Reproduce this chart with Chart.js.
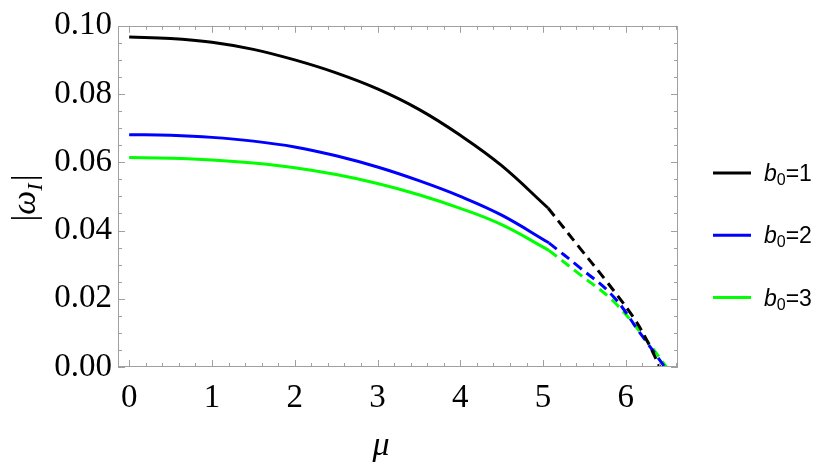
<!DOCTYPE html>
<html>
<head>
<meta charset="utf-8">
<script src="https://cdn.jsdelivr.net/npm/chart.js@4.4.1/dist/chart.umd.min.js"></script>
<style>
  html, body { margin: 0; padding: 0; background: #fff; }
  #wrap { position: relative; width: 830px; height: 469px; }
</style>
</head>
<body>
<div id="wrap"><canvas id="chart" width="830" height="469"></canvas></div>
<script>
// tick labels
var xTicks = [0, 1, 2, 3, 4, 5, 6];
var yTicks = [0, 0.02, 0.04, 0.06, 0.08, 0.10];

// legend
var b0Values = ["1", "2", "3"];
var lineColors = ["#000000", "#0000ff", "#00ff00"];

// b0 = 1 (solid part, then dashed part)
var mu1Solid = [0, 0.5, 1, 1.5, 2, 2.5, 3, 3.5, 4, 4.5, 5.06];
var w1Solid = [0.0967, 0.0963, 0.0952, 0.0931, 0.0900, 0.0862, 0.0815, 0.0755, 0.0679, 0.0590, 0.0466];
var mu1Dash = [5.06, 5.44, 5.76, 6.09, 6.25, 6.41];
var w1Dash = [0.0466, 0.0350, 0.0253, 0.0146, 0.0080, 0.0];

// b0 = 2
var mu2Solid = [0, 0.5, 1, 1.5, 2, 2.5, 3, 3.5, 4, 4.5, 5.07];
var w2Solid = [0.0681, 0.0679, 0.0673, 0.0662, 0.0645, 0.0619, 0.0586, 0.0546, 0.0500, 0.0445, 0.0364];
var mu2Dash = [5.07, 5.44, 5.84, 6.17, 6.47];
var w2Dash = [0.0364, 0.0292, 0.0209, 0.0100, 0.0];

// b0 = 3
var mu3Solid = [0, 0.5, 1, 1.5, 2, 2.5, 3, 3.5, 4, 4.5, 5.07];
var w3Solid = [0.0614, 0.0612, 0.0607, 0.0598, 0.0584, 0.0564, 0.0538, 0.0505, 0.0465, 0.0417, 0.0342];
var mu3Dash = [5.07, 5.44, 5.84, 6.17, 6.49];
var w3Dash = [0.0342, 0.0272, 0.0195, 0.0103, 0.0];

function toPoints(mu, w) {
    return mu.map(function (m, i) { return { x: m, y: w[i] }; });
}

function line(mu, w, color, dashed) {
    return {
        data: toPoints(mu, w),
        borderColor: color,
        borderWidth: 3,
        borderDash: dashed ? [10, 6] : [],
        pointRadius: 0,
        fill: false,
        tension: 0.4
    };
}

var serif = "'Liberation Serif', 'Times New Roman', serif";
var sans = "'Liberation Sans', Arial, sans-serif";

// frame with inward ticks, axis titles and legend
var decorations = {
    id: "decorations",
    afterDraw: function (chart) {
        var ctx = chart.ctx;
        var a = chart.chartArea;
        var xs = chart.scales.x;
        var ys = chart.scales.y;
        ctx.save();
        ctx.strokeStyle = "#a0a0a0";
        ctx.lineWidth = 1;
        ctx.strokeRect(Math.round(a.left) + 0.5, Math.round(a.top) + 0.5,
            Math.round(a.right - a.left) - 1, Math.round(a.bottom - a.top) - 1);

        ctx.beginPath();
        for (var i = 0; i <= 33; i++) {
            var px = Math.round(xs.getPixelForValue(i * 0.2)) + 0.5;
            if (px > a.right - 1) break;
            var len = i % 5 === 0 ? 7 : 4;
            ctx.moveTo(px, a.bottom);
            ctx.lineTo(px, a.bottom - len);
            ctx.moveTo(px, a.top);
            ctx.lineTo(px, a.top + len);
        }
        for (var j = 0; j <= 20; j++) {
            var py = Math.round(ys.getPixelForValue(j * 0.005)) + 0.5;
            var len2 = j % 4 === 0 ? 7 : 4;
            ctx.moveTo(a.left, py);
            ctx.lineTo(a.left + len2, py);
            ctx.moveTo(a.right, py);
            ctx.lineTo(a.right - len2, py);
        }
        ctx.stroke();

        // x title
        ctx.fillStyle = "#000";
        ctx.textAlign = "center";
        ctx.textBaseline = "middle";
        ctx.font = "italic 34px " + serif;
        ctx.fillText("\u03bc", 381, 446);

        // y title |ω_I|
        ctx.save();
        ctx.translate(24, 198);
        ctx.rotate(-Math.PI / 2);
        ctx.textAlign = "left";
        ctx.textBaseline = "alphabetic";
        var parts = [
            { t: "|", f: "34px " + serif, dy: 0 },
            { t: "\u03c9", f: "italic 34px " + serif, dy: 0 },
            { t: "I", f: "italic 22px " + serif, dy: 7 },
            { t: "|", f: "34px " + serif, dy: 0 }
        ];
        var total = 0;
        parts.forEach(function (p) { ctx.font = p.f; total += ctx.measureText(p.t).width + (p.t === "I" ? 2 : 0); });
        var x = -total / 2;
        parts.forEach(function (p) {
            ctx.font = p.f;
            ctx.fillText(p.t, x, 11 + p.dy);
            x += ctx.measureText(p.t).width + (p.t === "I" ? 2 : 0);
        });
        ctx.restore();

        // legend
        for (var k = 0; k < b0Values.length; k++) {
            var ly = 173 + k * 62.3;
            ctx.strokeStyle = lineColors[k];
            ctx.lineWidth = 3;
            ctx.beginPath();
            ctx.moveTo(713, ly);
            ctx.lineTo(751, ly);
            ctx.stroke();
            ctx.fillStyle = "#000";
            ctx.textAlign = "left";
            ctx.textBaseline = "alphabetic";
            var tx = 764;
            ctx.font = "italic 23px " + sans;
            ctx.fillText("b", tx, ly + 8);
            tx += ctx.measureText("b").width;
            ctx.font = "16px " + sans;
            ctx.fillText("0", tx, ly + 12);
            tx += ctx.measureText("0").width;
            ctx.font = "23px " + sans;
            ctx.fillText("=" + b0Values[k], tx, ly + 8);
        }
        ctx.restore();
    }
};

var ctx = document.getElementById("chart").getContext("2d");
var myChart = new Chart(ctx, {
    type: "line",
    data: {
        datasets: [
            line(mu1Solid, w1Solid, lineColors[0], false),
            line(mu1Dash, w1Dash, lineColors[0], true),
            line(mu2Solid, w2Solid, lineColors[1], false),
            line(mu2Dash, w2Dash, lineColors[1], true),
            line(mu3Solid, w3Solid, lineColors[2], false),
            line(mu3Dash, w3Dash, lineColors[2], true)
        ]
    },
    options: {
        responsive: false,
        animation: false,
        devicePixelRatio: 1,
        layout: { padding: { top: 23, right: 152, left: 0, bottom: 0 } },
        plugins: {
            legend: { display: false },
            tooltip: { enabled: false }
        },
        scales: {
            x: {
                type: "linear",
                min: -0.135,
                max: 6.63,
                afterBuildTicks: function (scale) {
                    scale.ticks = xTicks.map(function (v) { return { value: v }; });
                },
                afterFit: function (scale) { scale.height = 102; },
                ticks: {
                    color: "#000",
                    font: { family: serif, size: 33 },
                    padding: 12,
                    maxRotation: 0,
                    autoSkip: false,
                    includeBounds: false
                },
                grid: { display: false, drawTicks: false },
                border: { display: false }
            },
            y: {
                type: "linear",
                min: 0,
                max: 0.1,
                afterBuildTicks: function (scale) {
                    scale.ticks = yTicks.map(function (v) { return { value: v }; });
                },
                afterFit: function (scale) { scale.width = 118; },
                ticks: {
                    color: "#000",
                    font: { family: serif, size: 33 },
                    padding: 6,
                    autoSkip: false,
                    includeBounds: false,
                    callback: function (v) { return v.toFixed(2); }
                },
                grid: { display: false, drawTicks: false },
                border: { display: false }
            }
        }
    },
    plugins: [decorations]
});
</script>
</body>
</html>
